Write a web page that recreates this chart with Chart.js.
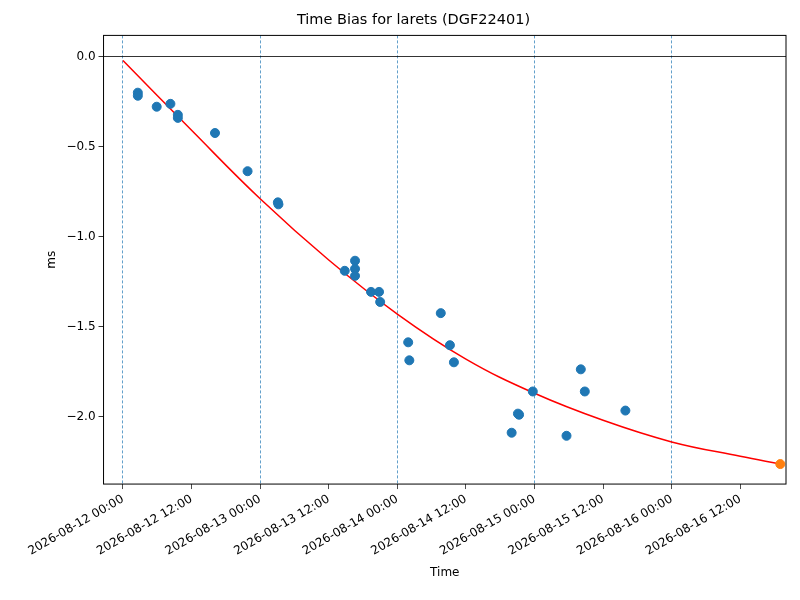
<!DOCTYPE html>
<html><head><script src="https://cdn.jsdelivr.net/npm/chart.js@4"></script>
<style>body{margin:0;background:#fff}#w{width:800px;height:600px}</style></head>
<body><div id="w"><canvas id="c"></canvas></div>
<script>
// observation times (hours since 2026-08-12 00:00) and time bias (ms)
const obsHours=[2.6,2.6,5.9,8.3,9.6,9.6,16.1,21.8,27.1,27.2,38.8,40.6,40.6,40.6,43.4,44.8,45.0,49.9,50.1,55.6,57.2,57.9,68.0,69.3,69.1,71.7,77.6,80.1,80.8,87.9];
const obsBias=[-0.201,-0.218,-0.279,-0.263,-0.324,-0.341,-0.425,-0.637,-0.810,-0.821,-1.190,-1.134,-1.179,-1.218,-1.307,-1.307,-1.363,-1.587,-1.687,-1.425,-1.603,-1.698,-2.089,-1.989,-1.983,-1.860,-2.106,-1.737,-1.860,-1.966];
const fitHours=[0,12,24,36,48,60,72,84,96,108,115];
const fitBias=[-0.022,-0.41,-0.79,-1.13,-1.43,-1.68,-1.87,-2.02,-2.14,-2.22,-2.263];
const predHours=[115];
const predBias=[-2.263];
const font={family:'DejaVu Sans',size:12};
function lbl(h){const d=new Date(Date.UTC(2026,7,12)+h*3600000);const p=n=>String(n).padStart(2,'0');
 return `${d.getUTCFullYear()}-${p(d.getUTCMonth()+1)}-${p(d.getUTCDate())} ${p(d.getUTCHours())}:00`;}
const frame={id:'frame',afterDraw(c){const a=c.chartArea,x=c.ctx;x.save();x.strokeStyle='#000';x.lineWidth=1;x.strokeRect(a.left,a.top,a.right-a.left,a.bottom-a.top);x.restore();}};
new Chart(document.getElementById('c'),{
 type:'scatter',
 data:{datasets:[
  {data:fitHours.map((h,i)=>({x:h,y:fitBias[i]})),showLine:true,borderColor:'#ff0000',borderWidth:1.5,pointRadius:0,tension:0.4,order:2},
  {data:obsHours.map((h,i)=>({x:h,y:obsBias[i]})),backgroundColor:'#1f77b4',borderColor:'#1f77b4',pointRadius:4.5,order:1},
  {data:predHours.map((h,i)=>({x:h,y:predBias[i]})),backgroundColor:'#ff7f0e',borderColor:'#ff7f0e',pointRadius:4.5,order:0}
 ]},
 options:{responsive:true,maintainAspectRatio:false,animation:false,
  layout:{padding:{left:41,right:14,top:4,bottom:16}},
  plugins:{legend:{display:false},tooltip:{enabled:false},
   title:{display:true,text:'Time Bias for larets (DGF22401)',color:'#000',font:{family:'DejaVu Sans',size:14.5,weight:'normal'},padding:{top:8,bottom:6}}},
  scales:{
   x:{type:'linear',min:-3.4,max:116,
    title:{display:true,text:'Time',color:'#000',font},
    ticks:{stepSize:12,color:'#000',font,maxRotation:30,minRotation:30,callback:v=>lbl(v),autoSkip:false},
    afterBuildTicks(s){s.ticks=[0,12,24,36,48,60,72,84,96,108].map(v=>({value:v}));},
    border:{display:false,dash:[3,2]},
    grid:{color:c=>c.tick&&c.tick.value%24===0?'#1f77b4':'rgba(0,0,0,0)',tickColor:'#000',lineWidth:0.7,tickLength:5}},
   y:{min:-2.374,max:0.117,
    title:{display:true,text:'ms',color:'#000',font},
    ticks:{color:'#000',font,callback:v=>(v<0?'\u2212':'')+Math.abs(v).toFixed(1)},
    afterBuildTicks(s){s.ticks=[0,-0.5,-1,-1.5,-2].map(v=>({value:v}));},
    border:{display:false},
    grid:{color:c=>c.tick&&c.tick.value===0?'#000':'rgba(0,0,0,0)',tickColor:'#000',lineWidth:0.8,tickLength:5}}
  }},
 plugins:[frame]
});
</script></body></html>
